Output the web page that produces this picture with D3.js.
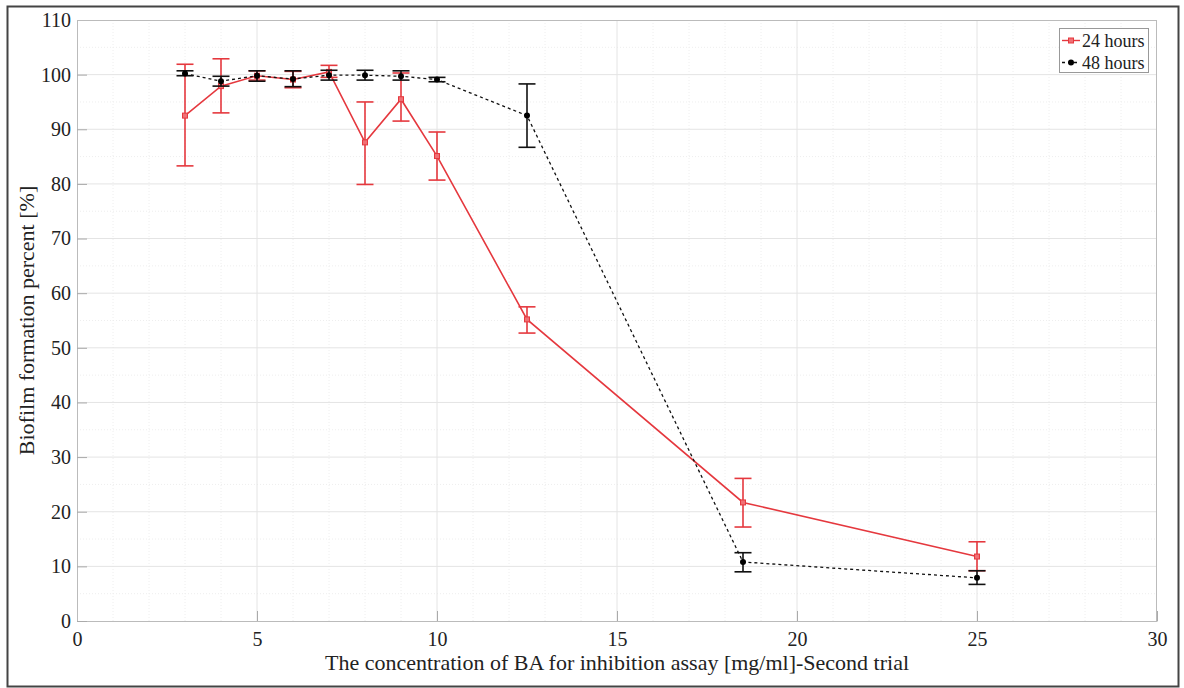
<!DOCTYPE html>
<html>
<head>
<meta charset="utf-8">
<script src="https://cdn.jsdelivr.net/npm/d3@7"></script>
<style>
  body { margin: 0; background: #fff; }
  svg text { font-family: "Times New Roman", "Liberation Serif", Tinos, "Nimbus Roman", "DejaVu Serif", serif !important; fill: #222; }
</style>
</head>
<body>
<div id="chart"></div>
<script>
// concentrations [mg/ml]
var conc = [3, 4, 5, 6, 7, 8, 9, 10, 12.5, 18.5, 25];
// 24 hours: mean, lower, upper
var h24 = [92.5, 97.9, 99.8, 99.1, 100.5, 87.6, 95.5, 85.1, 55.2, 21.7, 11.8];
var h24lo = [83.3, 93.0, 99.0, 97.6, 99.5, 79.9, 91.5, 80.7, 52.7, 17.2, 9.2];
var h24hi = [101.9, 102.9, 100.7, 100.6, 101.7, 95.0, 100.3, 89.5, 57.5, 26.1, 14.5];
// 48 hours
var h48 = [100.2, 98.8, 99.8, 99.2, 99.9, 99.9, 99.7, 99.1, 92.5, 10.8, 7.9];
var h48lo = [99.8, 97.9, 98.8, 97.8, 99.0, 99.0, 99.0, 98.7, 86.7, 9.0, 6.7];
var h48hi = [100.7, 99.7, 100.7, 100.7, 100.8, 100.8, 100.7, 99.5, 98.3, 12.5, 9.2];

var xTicks = [0, 5, 10, 15, 20, 25, 30];
var yTicks = [0, 10, 20, 30, 40, 50, 60, 70, 80, 90, 100, 110];

var W = 1184, H = 688;
var margin = {top: 20, right: 27, bottom: 67, left: 77},
    width = W - margin.left - margin.right,
    height = H - margin.top - margin.bottom;

var red = "#e5383e";
var serif = "'Times New Roman', 'Liberation Serif', Tinos, 'DejaVu Serif', serif";

var svg = d3.select("#chart").append("svg")
    .attr("width", W).attr("height", H)
    .attr("font-family", serif);

// outer frame
svg.append("rect")
    .attr("x", 7.5).attr("y", 6.5)
    .attr("width", 1171).attr("height", 680)
    .attr("fill", "none").attr("stroke", "#444").attr("stroke-width", 2);

var g = svg.append("g")
    .attr("transform", "translate(" + margin.left + "," + margin.top + ")");

var x = d3.scaleLinear().domain([0, 30]).range([0, width]);
var y = d3.scaleLinear().domain([0, 110]).range([height, 0]);

// minor grid
g.append("g").selectAll("line")
    .data(d3.range(1, 30).filter(function(d){ return d % 5 != 0; }))
    .enter().append("line")
    .attr("x1", function(d){ return x(d); }).attr("x2", function(d){ return x(d); })
    .attr("y1", 0).attr("y2", height)
    .attr("stroke", "#eee").attr("stroke-dasharray", "1,2");
g.append("g").selectAll("line")
    .data(d3.range(5, 110, 10))
    .enter().append("line")
    .attr("y1", function(d){ return y(d); }).attr("y2", function(d){ return y(d); })
    .attr("x1", 0).attr("x2", width)
    .attr("stroke", "#eee").attr("stroke-dasharray", "1,2");

// major grid
g.append("g").selectAll("line")
    .data(xTicks.slice(1, -1))
    .enter().append("line")
    .attr("x1", function(d){ return x(d); }).attr("x2", function(d){ return x(d); })
    .attr("y1", 0).attr("y2", height)
    .attr("stroke", "#e4e4e4");
g.append("g").selectAll("line")
    .data(yTicks.slice(1, -1))
    .enter().append("line")
    .attr("y1", function(d){ return y(d); }).attr("y2", function(d){ return y(d); })
    .attr("x1", 0).attr("x2", width)
    .attr("stroke", "#e4e4e4");

// axes
var xAxis = g.append("g")
    .attr("transform", "translate(0," + height + ")")
    .call(d3.axisBottom(x).tickValues(xTicks).tickSizeInner(-10).tickSizeOuter(0).tickPadding(16));
var yAxis = g.append("g")
    .call(d3.axisLeft(y).tickValues(yTicks).tickSizeInner(-10).tickSizeOuter(0).tickPadding(16));
[xAxis, yAxis].forEach(function(a){
    a.attr("font-family", serif);
    a.select(".domain").attr("stroke", "#bbb");
    a.selectAll(".tick line").attr("stroke", "#aaa");
    a.selectAll(".tick text").style("font-size", "20px").attr("fill", "#222");
});
yAxis.selectAll(".tick text").attr("x", -6);
xAxis.selectAll(".tick text").attr("y", 11);

// box top / right
g.append("line").attr("x1", 0).attr("x2", width).attr("y1", 0.5).attr("y2", 0.5).attr("stroke", "#bbb");
g.append("line").attr("x1", width - 0.5).attr("x2", width - 0.5).attr("y1", 0).attr("y2", height).attr("stroke", "#bbb");

function series(vals, lo, hi, color, dash, marker) {
    var pts = conc.map(function(c, i){ return {x: c, v: vals[i], lo: lo[i], hi: hi[i]}; });
    var s = g.append("g");
    s.append("path").datum(pts)
        .attr("fill", "none").attr("stroke", color)
        .attr("stroke-width", dash ? 1.3 : 1.6)
        .attr("stroke-dasharray", dash)
        .attr("d", d3.line().x(function(d){ return x(d.x); }).y(function(d){ return y(d.v); }));
    var eb = s.selectAll(".eb").data(pts).enter().append("g");
    eb.append("line")
        .attr("x1", function(d){ return x(d.x); }).attr("x2", function(d){ return x(d.x); })
        .attr("y1", function(d){ return y(d.lo); }).attr("y2", function(d){ return y(d.hi); })
        .attr("stroke", color).attr("stroke-width", 1.6);
    ["lo", "hi"].forEach(function(k){
        eb.append("line")
            .attr("x1", function(d){ return x(d.x) - 8.5; }).attr("x2", function(d){ return x(d.x) + 8.5; })
            .attr("y1", function(d){ return y(d[k]); }).attr("y2", function(d){ return y(d[k]); })
            .attr("stroke", color).attr("stroke-width", 1.6);
    });
    if (marker == "square") {
        s.selectAll(".m").data(pts).enter().append("rect")
            .attr("x", function(d){ return x(d.x) - 2.5; })
            .attr("y", function(d){ return y(d.v) - 2.5; })
            .attr("width", 5).attr("height", 5)
            .attr("fill", "#f07075").attr("stroke", color).attr("stroke-width", 1);
    } else {
        s.selectAll(".m").data(pts).enter().append("circle")
            .attr("cx", function(d){ return x(d.x); })
            .attr("cy", function(d){ return y(d.v); })
            .attr("r", 3).attr("fill", "#000");
    }
}
series(h24, h24lo, h24hi, red, null, "square");
series(h48, h48lo, h48hi, "#111", "3,3", "circle");

// axis labels
svg.append("text")
    .attr("x", margin.left + width / 2).attr("y", 670)
    .attr("text-anchor", "middle").style("font-size", "22px")
    .text("The concentration of BA for inhibition assay [mg/ml]-Second trial");
svg.append("text")
    .attr("transform", "translate(34," + (margin.top + height / 2) + ") rotate(-90)")
    .attr("text-anchor", "middle").style("font-size", "22px")
    .text("Biofilm formation percent [%]");

// legend
var lg = svg.append("g").attr("transform", "translate(1059,28)");
lg.append("rect").attr("x", 0.5).attr("y", 0.5).attr("width", 89).attr("height", 44)
    .attr("fill", "#fff").attr("stroke", "#999");
var legendItems = [
    {label: "24 hours", color: red, dash: null, marker: "square"},
    {label: "48 hours", color: "#111", dash: "3,3", marker: "circle"}
];
legendItems.forEach(function(it, i){
    var cy = 12.5 + i * 22;
    lg.append("line").attr("x1", 3).attr("x2", 21).attr("y1", cy).attr("y2", cy)
        .attr("stroke", it.color).attr("stroke-width", 1.4).attr("stroke-dasharray", it.dash);
    if (it.marker == "square") {
        lg.append("rect").attr("x", 9.5).attr("y", cy - 2.5).attr("width", 5).attr("height", 5)
            .attr("fill", "#f07075").attr("stroke", it.color);
    } else {
        lg.append("circle").attr("cx", 12).attr("cy", cy).attr("r", 3).attr("fill", "#000");
    }
    lg.append("text").attr("x", 23).attr("y", cy + 6).style("font-size", "18px").text(it.label);
});
</script>
</body>
</html>
